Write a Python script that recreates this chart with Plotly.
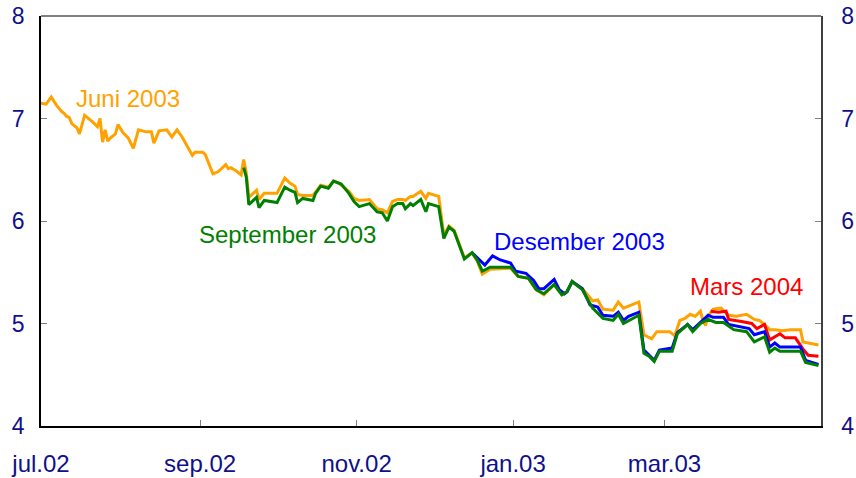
import plotly.graph_objects as go

# ---------------- data ----------------
juni_dates = [
    "2002-07-01", "2002-07-03", "2002-07-05", "2002-07-07", "2002-07-09", "2002-07-10",
    "2002-07-11", "2002-07-12", "2002-07-13", "2002-07-15", "2002-07-16", "2002-07-18",
    "2002-07-21", "2002-07-23", "2002-07-24", "2002-07-25", "2002-07-26", "2002-07-27",
    "2002-07-28", "2002-07-30", "2002-07-31", "2002-08-02", "2002-08-04", "2002-08-06",
    "2002-08-08", "2002-08-11", "2002-08-13", "2002-08-14", "2002-08-16", "2002-08-19",
    "2002-08-21", "2002-08-23", "2002-08-25", "2002-08-27", "2002-08-29", "2002-08-30",
    "2002-09-02", "2002-09-03", "2002-09-06", "2002-09-08", "2002-09-10", "2002-09-11",
    "2002-09-12", "2002-09-13", "2002-09-15", "2002-09-17", "2002-09-18", "2002-09-19",
    "2002-09-20", "2002-09-23", "2002-09-24", "2002-09-26", "2002-10-01", "2002-10-04",
    "2002-10-06", "2002-10-08", "2002-10-09", "2002-10-11", "2002-10-15", "2002-10-16",
    "2002-10-18", "2002-10-21", "2002-10-23", "2002-10-25", "2002-10-29", "2002-10-31",
    "2002-11-02", "2002-11-06", "2002-11-09", "2002-11-11", "2002-11-13", "2002-11-15",
    "2002-11-17", "2002-11-19", "2002-11-20", "2002-11-22", "2002-11-23", "2002-11-26",
    "2002-11-28", "2002-11-29", "2002-12-03", "2002-12-05", "2002-12-07", "2002-12-09",
    "2002-12-13", "2002-12-16", "2002-12-18", "2002-12-20", "2002-12-23", "2002-12-31",
    "2003-01-03", "2003-01-07", "2003-01-10", "2003-01-13", "2003-01-17", "2003-01-20",
    "2003-01-22", "2003-01-24", "2003-01-28", "2003-02-01", "2003-02-03", "2003-02-05",
    "2003-02-09", "2003-02-11", "2003-02-13", "2003-02-15", "2003-02-19", "2003-02-21",
    "2003-02-24", "2003-02-26", "2003-03-03", "2003-03-05", "2003-03-07", "2003-03-09",
    "2003-03-11", "2003-03-13", "2003-03-15", "2003-03-16", "2003-03-17", "2003-03-18",
    "2003-03-20", "2003-03-23", "2003-03-26", "2003-03-29", "2003-04-01", "2003-04-02",
    "2003-04-05", "2003-04-07", "2003-04-09", "2003-04-11", "2003-04-13", "2003-04-16",
    "2003-04-19", "2003-04-23", "2003-04-24", "2003-04-26", "2003-04-30",
]
juni_values = [
    7.15, 7.14, 7.21, 7.13, 7.07, 7.05,
    7.02, 7.01, 6.95, 6.91, 6.85, 7.03,
    6.97, 6.92, 7.00, 6.77, 6.89, 6.78,
    6.81, 6.85, 6.94, 6.86, 6.81, 6.71,
    6.89, 6.87, 6.87, 6.76, 6.88, 6.89,
    6.82, 6.89, 6.82, 6.73, 6.64, 6.67,
    6.67, 6.65, 6.46, 6.48, 6.53, 6.55,
    6.51, 6.52, 6.49, 6.45, 6.60, 6.47,
    6.23, 6.30, 6.21, 6.27, 6.27, 6.42,
    6.37, 6.34, 6.26, 6.25, 6.25, 6.28,
    6.35, 6.33, 6.39, 6.37, 6.29, 6.22,
    6.20, 6.21, 6.12, 6.11, 6.08, 6.19,
    6.21, 6.21, 6.20, 6.24, 6.24, 6.29,
    6.22, 6.27, 6.24, 5.86, 5.95, 5.91,
    5.64, 5.69, 5.61, 5.48, 5.53, 5.54,
    5.46, 5.44, 5.33, 5.28, 5.38, 5.28,
    5.31, 5.41, 5.34, 5.22, 5.23, 5.14,
    5.13, 5.21, 5.15, 5.17, 5.21, 4.89,
    4.85, 4.92, 4.92, 4.88, 5.03, 5.05,
    5.09, 5.07, 5.12, 5.03, 4.98, 5.07,
    5.14, 5.15, 5.08, 5.07, 5.08, 5.09,
    5.04, 5.03, 4.99, 4.94, 4.94, 4.93,
    4.94, 4.94, 4.82, 4.81, 4.79,
]

september_dates = [
    "2002-09-18", "2002-09-19", "2002-09-20", "2002-09-23", "2002-09-24", "2002-09-26",
    "2002-10-01", "2002-10-04", "2002-10-06", "2002-10-08", "2002-10-09", "2002-10-11",
    "2002-10-15", "2002-10-16", "2002-10-18", "2002-10-21", "2002-10-23", "2002-10-26",
    "2002-10-29", "2002-10-31", "2002-11-02", "2002-11-06", "2002-11-09", "2002-11-11",
    "2002-11-13", "2002-11-15", "2002-11-17", "2002-11-19", "2002-11-20", "2002-11-22",
    "2002-11-23", "2002-11-26", "2002-11-28", "2002-11-29", "2002-12-03", "2002-12-05",
    "2002-12-07", "2002-12-09", "2002-12-13", "2002-12-16", "2002-12-18", "2002-12-20",
    "2002-12-23", "2002-12-31", "2003-01-03", "2003-01-07", "2003-01-10", "2003-01-13",
    "2003-01-17", "2003-01-20", "2003-01-22", "2003-01-24", "2003-01-28", "2003-02-01",
    "2003-02-05", "2003-02-09", "2003-02-11", "2003-02-13", "2003-02-19", "2003-02-21",
    "2003-02-23", "2003-02-25", "2003-02-27", "2003-03-04", "2003-03-06", "2003-03-10",
    "2003-03-12", "2003-03-15", "2003-03-18", "2003-03-21", "2003-03-24", "2003-03-28",
    "2003-04-02", "2003-04-05", "2003-04-09", "2003-04-11", "2003-04-13", "2003-04-15",
    "2003-04-23", "2003-04-25", "2003-04-30",
]
september_values = [
    6.52, 6.43, 6.16, 6.23, 6.13, 6.20,
    6.18, 6.33, 6.30, 6.28, 6.18, 6.22,
    6.20, 6.27, 6.34, 6.32, 6.39, 6.36,
    6.27, 6.19, 6.14, 6.17, 6.09, 6.08,
    6.00, 6.14, 6.17, 6.17, 6.12, 6.17,
    6.15, 6.21, 6.09, 6.17, 6.14, 5.83,
    5.94, 5.90, 5.63, 5.69, 5.62, 5.51,
    5.55, 5.55, 5.46, 5.44, 5.33, 5.29,
    5.38, 5.28, 5.31, 5.41, 5.33, 5.15,
    5.05, 5.03, 5.09, 5.00, 5.08, 4.71,
    4.68, 4.63, 4.73, 4.73, 4.90, 4.99,
    4.92, 5.00, 5.04, 5.01, 5.01, 4.94,
    4.92, 4.82, 4.87, 4.72, 4.76, 4.73,
    4.73, 4.62, 4.59,
]

desember_dates = [
    "2002-12-16", "2002-12-19", "2002-12-21", "2002-12-24", "2002-12-27", "2002-12-31",
    "2003-01-02", "2003-01-06", "2003-01-09", "2003-01-11", "2003-01-13", "2003-01-17",
    "2003-01-19", "2003-01-21", "2003-01-22", "2003-01-24", "2003-01-28", "2003-01-31",
    "2003-02-03", "2003-02-05", "2003-02-09", "2003-02-11", "2003-02-13", "2003-02-15",
    "2003-02-19", "2003-02-21", "2003-02-25", "2003-02-27", "2003-03-04", "2003-03-06",
    "2003-03-10", "2003-03-12", "2003-03-15", "2003-03-18", "2003-03-20", "2003-03-24",
    "2003-03-26", "2003-04-01", "2003-04-03", "2003-04-05", "2003-04-09", "2003-04-11",
    "2003-04-13", "2003-04-15", "2003-04-23", "2003-04-25", "2003-04-30",
]
desember_values = [
    5.69, 5.62, 5.57, 5.66, 5.62, 5.59,
    5.51, 5.49, 5.42, 5.34, 5.34, 5.43,
    5.33, 5.29, 5.31, 5.41, 5.34, 5.18,
    5.16, 5.08, 5.07, 5.11, 5.03, 5.07,
    5.11, 4.74, 4.64, 4.74, 4.76, 4.91,
    4.99, 4.94, 5.01, 5.08, 5.06, 5.06,
    4.99, 4.96, 4.95, 4.89, 4.92, 4.77,
    4.81, 4.77, 4.77, 4.64, 4.60,
]

mars_dates = [
    "2003-03-19", "2003-03-22", "2003-03-25", "2003-03-26", "2003-03-31", "2003-04-04",
    "2003-04-06", "2003-04-09", "2003-04-11", "2003-04-13", "2003-04-15", "2003-04-17",
    "2003-04-21", "2003-04-24", "2003-04-26", "2003-04-30",
]
mars_values = [
    5.12, 5.11, 5.12, 5.04, 5.02, 5.00,
    4.95, 4.99, 4.84, 4.87, 4.90, 4.86,
    4.86, 4.75, 4.69, 4.68,
]

tick_dates = ["2002-07-01", "2002-09-01", "2002-11-01", "2003-01-01", "2003-03-01"]
tick_labels = ["jul.02", "sep.02", "nov.02", "jan.03", "mar.03"]
y_ticks = [4, 5, 6, 7, 8]

series_names = ["Juni 2003", "Mars 2004", "Desember 2003", "September 2003"]
series_colors = ["#FFA200", "#FF0000", "#0000FF", "#008000"]

# anchors (date, value) for the in-plot series names
label_x = {"Juni 2003": "2002-08-04", "September 2003": "2002-10-05",
           "Desember 2003": "2003-01-27", "Mars 2004": "2003-04-02"}
label_y = {"Juni 2003": 7.20, "September 2003": 5.87,
           "Desember 2003": 5.80, "Mars 2004": 5.36}

assert len(juni_dates) == len(juni_values)
assert len(september_dates) == len(september_values)
assert len(desember_dates) == len(desember_values)
assert len(mars_dates) == len(mars_values)

# ---------------- figure ----------------
FONT = "Arial, 'Liberation Sans', sans-serif"
NAVY = "#10108A"

fig = go.Figure()
all_x = [juni_dates, mars_dates, desember_dates, september_dates]
all_y = [juni_values, mars_values, desember_values, september_values]
for name, xs, ys, col in zip(series_names, all_x, all_y, series_colors):
    fig.add_trace(go.Scatter(x=xs, y=ys, mode="lines", name=name,
                             line=dict(color=col, width=3), showlegend=False))

# empty trace to activate the right-hand axis
fig.add_trace(go.Scatter(x=[], y=[], yaxis="y2", showlegend=False))

for name, col in zip(series_names, series_colors):
    fig.add_annotation(x=label_x[name], y=label_y[name], text=name, showarrow=False,
                       font=dict(family=FONT, size=24, color=col),
                       xanchor="center", yanchor="middle")

fig.update_layout(
    width=856, height=478,
    margin=dict(l=41, r=35, t=16, b=52, autoexpand=False),
    paper_bgcolor="white", plot_bgcolor="white",
    xaxis=dict(
        type="date", range=["2002-07-01", "2003-05-01"],
        tickvals=tick_dates, ticktext=tick_labels,
        ticks="inside", ticklen=6, tickcolor="#808080", tickwidth=1,
        showline=True, linecolor="black", linewidth=2,
        showgrid=False, zeroline=False, automargin=False,
        tickfont=dict(family=FONT, size=24, color=NAVY),
        ticklabelstandoff=15, ticklabeloverflow="allow",
    ),
    yaxis=dict(
        range=[4, 8], tickvals=y_ticks,
        ticks="inside", ticklen=6, tickcolor="#808080", tickwidth=1,
        showline=True, linecolor="black", linewidth=1.5,
        showgrid=False, zeroline=False, automargin=False,
        tickfont=dict(family=FONT, size=23, color=NAVY),
        ticklabelstandoff=10, ticklabeloverflow="allow",
    ),
    yaxis2=dict(
        range=[4, 8], tickvals=y_ticks, overlaying="y", side="right",
        ticks="inside", ticklen=6, tickcolor="#808080", tickwidth=1,
        showline=True, linecolor="#404040", linewidth=1.5,
        showgrid=False, zeroline=False, automargin=False,
        tickfont=dict(family=FONT, size=23, color=NAVY),
        ticklabelstandoff=14, ticklabeloverflow="allow",
    ),
    shapes=[dict(type="line", xref="paper", yref="paper", x0=0, x1=1, y0=1, y1=1,
                 line=dict(color="black", width=1))],
)

# remove the default page margin so the figure fills the window exactly
fig.write_html("out.html",
               config={"displayModeBar": False},
               post_script="document.body.style.margin='0px';"
                           "document.body.style.overflow='hidden';")
